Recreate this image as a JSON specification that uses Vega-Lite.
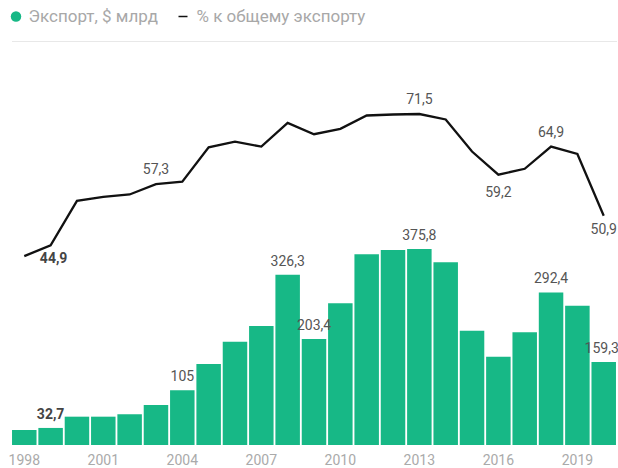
{
  "$schema": "https://vega.github.io/schema/vega-lite/v6.json",
  "width": 605,
  "height": 404,
  "autosize": {"type": "none"},
  "padding": {"left": 11.5, "top": 41, "right": 1.5, "bottom": 23},
  "background": "white",
  "config": {
    "view": {"stroke": null},
    "font": "Roboto",
    "locale": {"number": {"decimal": ",", "thousands": " ", "grouping": [3], "currency": ["", ""]}},
    "legend": {"orient": "none", "title": null, "padding": 0, "labelFont": "Roboto", "labelFontSize": 17, "labelColor": "#a8a8a8", "labelLimit": 400}
  },
  "data": {
    "values": [
      {"year": 1998, "export": 28.8, "share": 42.7},
      {"year": 1999, "export": 32.7, "share": 44.9},
      {"year": 2000, "export": 54.3, "share": 53.9},
      {"year": 2001, "export": 54.3, "share": 54.7},
      {"year": 2002, "export": 58.9, "share": 55.2},
      {"year": 2003, "export": 76.7, "share": 57.3},
      {"year": 2004, "export": 105, "share": 57.8},
      {"year": 2005, "export": 155.3, "share": 64.75},
      {"year": 2006, "export": 198, "share": 65.9},
      {"year": 2007, "export": 228.1, "share": 64.9},
      {"year": 2008, "export": 326.3, "share": 69.7},
      {"year": 2009, "export": 203.4, "share": 67.4},
      {"year": 2010, "export": 271.7, "share": 68.5},
      {"year": 2011, "export": 365.6, "share": 71.2},
      {"year": 2012, "export": 373.8, "share": 71.4},
      {"year": 2013, "export": 375.8, "share": 71.5},
      {"year": 2014, "export": 350.3, "share": 70.4},
      {"year": 2015, "export": 219.1, "share": 63.9},
      {"year": 2016, "export": 169.3, "share": 59.2},
      {"year": 2017, "export": 216, "share": 60.4},
      {"year": 2018, "export": 292.4, "share": 64.9},
      {"year": 2019, "export": 267, "share": 63.4},
      {"year": 2020, "export": 159.3, "share": 50.9}
    ]
  },
  "encoding": {
    "x": {
      "field": "year", "type": "ordinal",
      "scale": {"paddingInner": 0.07, "paddingOuter": 0.02},
      "axis": {
        "title": null, "domain": false, "ticks": false, "labelAngle": 0,
        "values": [1998, 2001, 2004, 2007, 2010, 2013, 2016, 2019],
        "labelFont": "Roboto", "labelFontSize": 14, "labelColor": "#aaaaaa", "labelPadding": 8
      }
    }
  },
  "layer": [
    {
      "layer": [
        {
          "mark": {"type": "bar"},
          "encoding": {
            "y": {
              "field": "export", "type": "quantitative",
              "scale": {"domain": [0, 774.5], "nice": false, "zero": true},
              "axis": {"title": null, "values": [774.5], "labels": false, "ticks": false, "domain": false, "grid": true, "gridColor": "#e8e8e8", "gridWidth": 1}
            },
            "color": {
              "datum": "Экспорт, $ млрд",
              "scale": {"range": ["#17b886"]},
              "legend": {"symbolType": "circle", "symbolSize": 110, "symbolStrokeWidth": 0, "legendX": -4, "legendY": -33, "labelOffset": 4}
            }
          }
        },
        {
          "transform": [{"filter": "datum.year == 1999"}],
          "mark": {"type": "text", "dy": -13, "fontSize": 14, "fontWeight": "bold", "color": "#444", "font": "Roboto"},
          "encoding": {
            "y": {"field": "export", "type": "quantitative"},
            "text": {"field": "export", "type": "quantitative", "format": ".1~f"}
          }
        },
        {
          "transform": [{"filter": "indexof([2004, 2008, 2009, 2013, 2018], datum.year) >= 0"}],
          "mark": {"type": "text", "dy": -13, "fontSize": 14, "color": "#555", "font": "Roboto"},
          "encoding": {
            "y": {"field": "export", "type": "quantitative"},
            "text": {"field": "export", "type": "quantitative", "format": ".1~f"}
          }
        },
        {
          "transform": [{"filter": "datum.year == 2020"}],
          "mark": {"type": "text", "dy": -13, "dx": -2, "fontSize": 14, "color": "#555", "font": "Roboto"},
          "encoding": {
            "y": {"field": "export", "type": "quantitative"},
            "text": {"field": "export", "type": "quantitative", "format": ".1~f"}
          }
        }
      ]
    },
    {
      "layer": [
        {
          "mark": {"type": "line", "strokeWidth": 2.3, "strokeJoin": "miter"},
          "encoding": {
            "y": {
              "field": "share", "type": "quantitative",
              "scale": {"domain": [4.44, 86.29], "nice": false, "zero": false},
              "axis": null
            },
            "stroke": {
              "datum": "% к общему экспорту",
              "scale": {"range": ["#111111"]},
              "legend": {"symbolType": "stroke", "symbolSize": 81, "symbolStrokeWidth": 1.5, "legendX": 163, "legendY": -33, "labelOffset": 5}
            }
          }
        },
        {
          "transform": [{"filter": "datum.year == 1999"}],
          "mark": {"type": "text", "dy": 14, "dx": 3, "fontSize": 14, "fontWeight": "bold", "color": "#444", "font": "Roboto"},
          "encoding": {
            "y": {"field": "share", "type": "quantitative"},
            "text": {"field": "share", "type": "quantitative", "format": ".1~f"}
          }
        },
        {
          "transform": [{"filter": "indexof([2016], datum.year) >= 0"}],
          "mark": {"type": "text", "dy": 18, "fontSize": 14, "color": "#555", "font": "Roboto"},
          "encoding": {
            "y": {"field": "share", "type": "quantitative"},
            "text": {"field": "share", "type": "quantitative", "format": ".1~f"}
          }
        },
        {
          "transform": [{"filter": "indexof([2020], datum.year) >= 0"}],
          "mark": {"type": "text", "dy": 14, "fontSize": 14, "color": "#555", "font": "Roboto"},
          "encoding": {
            "y": {"field": "share", "type": "quantitative"},
            "text": {"field": "share", "type": "quantitative", "format": ".1~f"}
          }
        },
        {
          "transform": [{"filter": "indexof([2003, 2013, 2018], datum.year) >= 0"}],
          "mark": {"type": "text", "dy": -14, "fontSize": 14, "color": "#555", "font": "Roboto"},
          "encoding": {
            "y": {"field": "share", "type": "quantitative"},
            "text": {"field": "share", "type": "quantitative", "format": ".1~f"}
          }
        }
      ]
    }
  ],
  "resolve": {"scale": {"y": "independent", "color": "independent"}}
}
